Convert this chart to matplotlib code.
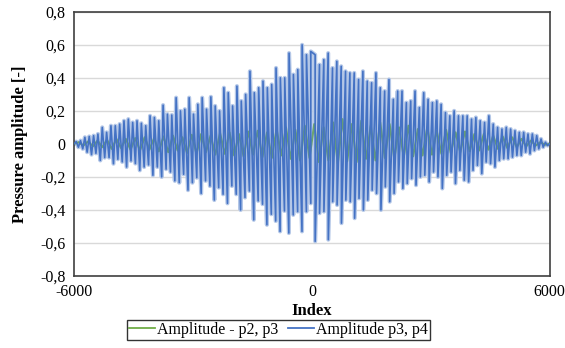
import numpy as np
import matplotlib
matplotlib.use('Agg')
import matplotlib.pyplot as plt
from matplotlib.ticker import FuncFormatter

# Blue series (p3, p4): successive oscillation peaks and troughs, read left to right
blue_peaks = [0.014, 0.02, 0.04, 0.045, 0.05, 0.06, 0.10, 0.07, 0.11, 0.11, 0.12, 0.14, 0.15,
              0.13, 0.14, 0.125, 0.11, 0.17, 0.16, 0.14, 0.235, 0.18, 0.175, 0.28, 0.20, 0.21,
              0.28, 0.18, 0.24, 0.28, 0.21, 0.285, 0.23, 0.20, 0.34, 0.31, 0.23, 0.35, 0.26,
              0.30, 0.44, 0.31, 0.34, 0.38, 0.34, 0.36, 0.46, 0.40, 0.40, 0.55, 0.42, 0.45,
              0.60, 0.54, 0.56, 0.54, 0.48, 0.51, 0.55, 0.46, 0.50, 0.47, 0.44, 0.43, 0.43,
              0.39, 0.44, 0.38, 0.37, 0.43, 0.34, 0.32, 0.39, 0.27, 0.32, 0.32, 0.25, 0.26,
              0.32, 0.22, 0.31, 0.27, 0.25, 0.26, 0.24, 0.19, 0.17, 0.20, 0.17, 0.17, 0.17,
              0.15, 0.16, 0.14, 0.13, 0.17, 0.12, 0.10, 0.09, 0.10, 0.09, 0.08, 0.07, 0.07,
              0.06, 0.06, 0.05, 0.03, 0.01]
blue_troughs = [-0.02, -0.03, -0.05, -0.065, -0.057, -0.10, -0.083, -0.083, -0.12, -0.093,
                -0.109, -0.14, -0.103, -0.119, -0.16, -0.14, -0.127, -0.19, -0.14, -0.20,
                -0.153, -0.17, -0.224, -0.235, -0.184, -0.28, -0.235, -0.205, -0.30, -0.224,
                -0.255, -0.34, -0.265, -0.305, -0.36, -0.255, -0.305, -0.40, -0.325, -0.285,
                -0.46, -0.345, -0.365, -0.49, -0.426, -0.467, -0.53, -0.406, -0.54, -0.43,
                -0.41, -0.53, -0.41, -0.36, -0.59, -0.42, -0.41, -0.58, -0.35, -0.37, -0.48,
                -0.34, -0.35, -0.45, -0.33, -0.40, -0.34, -0.28, -0.30, -0.40, -0.26, -0.35,
                -0.30, -0.23, -0.27, -0.24, -0.21, -0.25, -0.20, -0.19, -0.23, -0.17, -0.20,
                -0.27, -0.19, -0.17, -0.24, -0.16, -0.22, -0.23, -0.16, -0.13, -0.18, -0.11,
                -0.12, -0.14, -0.10, -0.09, -0.09, -0.08, -0.07, -0.07, -0.05, -0.06, -0.04,
                -0.03, -0.02, -0.01]

# Green series (p2, p3)
green_peaks = [0.01, 0.015, 0.02, 0.025, 0.03, 0.03, 0.035, 0.04, 0.035, 0.045, 0.05, 0.04,
               0.055, 0.06, 0.05, 0.065, 0.07, 0.06, 0.075, 0.08, 0.07, 0.09, 0.10, 0.085,
               0.11, 0.12, 0.10, 0.13, 0.15, 0.12, 0.14, 0.11, 0.13, 0.12, 0.10, 0.11, 0.09,
               0.10, 0.08, 0.085, 0.07, 0.075, 0.06, 0.06, 0.05, 0.045, 0.04, 0.03, 0.02, 0.01]
green_troughs = [-0.01, -0.015, -0.02, -0.03, -0.025, -0.035, -0.04, -0.035, -0.045, -0.05,
                 -0.04, -0.055, -0.06, -0.05, -0.065, -0.06, -0.07, -0.075, -0.065, -0.08,
                 -0.085, -0.07, -0.09, -0.10, -0.085, -0.11, -0.10, -0.12, -0.105, -0.11,
                 -0.09, -0.10, -0.085, -0.09, -0.08, -0.075, -0.07, -0.065, -0.06, -0.055,
                 -0.05, -0.045, -0.04, -0.035, -0.03, -0.025, -0.02, -0.015, -0.01, -0.005]

x_min, x_max = -6000, 6000
x_ticks = [-6000, 0, 6000]
y_ticks = [-0.8, -0.6, -0.4, -0.2, 0, 0.2, 0.4, 0.6, 0.8]


def build_series(peaks, troughs):
    # spread peaks and troughs over the index range, alternating
    n = len(peaks) + len(troughs)
    step = (x_max - x_min) / (n + 1)
    xp = np.linspace(x_min + step, x_max - step * 2, len(peaks))
    xt = np.linspace(x_min + step * 2, x_max - step, len(troughs))
    xs = np.concatenate([[x_min], xp, xt, [x_max]])
    ys = np.concatenate([[0], peaks, troughs, [0]])
    order = np.argsort(xs, kind='stable')
    return xs[order], ys[order]


gx, gy = build_series(green_peaks, green_troughs)
bx, by = build_series(blue_peaks, blue_troughs)

plt.rcParams['font.family'] = ['Liberation Serif', 'DejaVu Serif']
plt.rcParams['axes.unicode_minus'] = False

fig = plt.figure(figsize=(5.65, 3.48), dpi=100)
ax = fig.add_axes([0.131, 0.207, 0.842, 0.759])

# light underlay to mimic the dense rendering of the blue trace
ax.plot(bx, by, color='#B4C7E7', lw=3.0, zorder=1)
ax.plot(gx, gy, color='#5E9C5A', lw=1.5, alpha=0.85, label='Amplitude - p2, p3', zorder=2)
ax.plot(bx, by, color='#4472C4', lw=1.2, label='Amplitude p3, p4', zorder=3)

ax.set_xlim(x_min, x_max)
ax.set_ylim(-0.8, 0.8)
ax.set_xticks(x_ticks)
ax.set_yticks(y_ticks)
ax.yaxis.set_major_formatter(FuncFormatter(
    lambda v, p: '0' if abs(v) < 1e-9 else f'{v:.1f}'.replace('.', ',')))
ax.tick_params(length=0, labelsize=11.5, pad=6)
ax.grid(axis='y', color='#D9D9D9', lw=1)
ax.set_axisbelow(True)
for s in ax.spines.values():
    s.set_color('#404040')
    s.set_linewidth(1.2)

ax.set_xlabel('Index', fontsize=12, fontweight='bold', labelpad=2)
ax.set_ylabel('Pressure amplitude [-]', fontsize=12, fontweight='bold', labelpad=9)

leg = ax.legend(loc='upper center', bbox_to_anchor=(0.43, -0.165), ncol=2, fontsize=11.5,
                frameon=True, fancybox=False, edgecolor='black', handlelength=1.6,
                handletextpad=0.15, columnspacing=0.6, borderpad=0.15, borderaxespad=0)
leg.get_frame().set_linewidth(1.0)
leg.get_lines()[0].set_color('#70AD47')
leg.get_lines()[0].set_alpha(1)
for ln in leg.get_lines():
    ln.set_linewidth(1.3)

fig.savefig('out.png', dpi=100)
